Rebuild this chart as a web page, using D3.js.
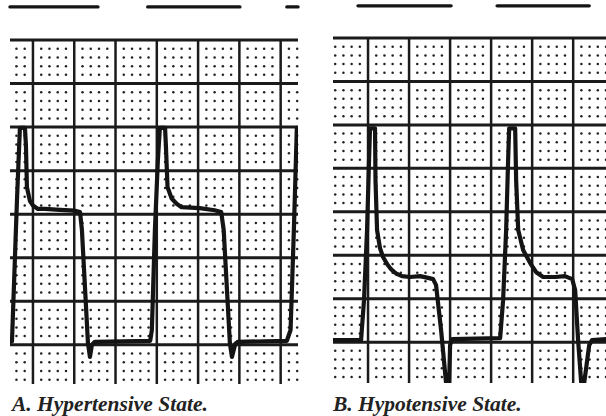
<!DOCTYPE html>
<html>
<head>
<meta charset="utf-8">
<script src="https://cdn.jsdelivr.net/npm/d3@7"></script>
<style>
  html, body { margin: 0; padding: 0; background: #fff; }
  svg { display: block; }
</style>
</head>
<body>
<svg id="chart" width="606" height="416"></svg>
<script>
// Recording strip coordinates are in millimetres of chart paper:
// x = paper travel (mm), y = pen deflection above baseline (mm).

// A. Hypertensive state: tall spike, quick decay onto a high plateau, brief undershoot.
const traceA_x = [-2.78, -2.54, -1.94, -1.58, -0.97, -0.85, -0.73, -0.36, 0.0, 0.6, 1.45, 3.27, 5.08, 5.7,
  5.93, 6.66, 6.9, 7.14, 7.5, 14.2, 14.4, 14.77, 15.13, 15.37, 16.0, 16.1, 16.3, 16.8, 17.4, 18.0,
  20.2, 22.0, 22.8, 23.1, 23.85, 24.1, 24.5, 24.8, 30.75, 31.2, 31.6, 31.96];
const traceA_y = [0.34, 0.4, 16.5, 24.9, 24.9, 22.9, 18.1, 16.5, 16.0, 15.6, 15.6, 15.5, 15.4, 15.25,
  13.2, 0.2, -1.4, 0.0, 0.34, 0.46, 1.7, 13.2, 21.2, 24.9, 24.9, 22.9, 18.1, 16.8, 16.2, 15.8,
  15.7, 15.45, 15.25, 13.2, 0.2, -1.4, 0.1, 0.34, 0.46, 1.7, 13.2, 24.9];

// B. Hypotensive state: sharp narrow spike, long decay onto a low plateau, deep undershoot.
const traceB_x = [-4.27, -0.85, -0.49, -0.12, 0.12, 0.24, 0.85, 0.91, 1.10, 1.46, 1.83, 2.32, 2.80,
  3.41, 4.15, 5.12, 6.34, 7.32, 7.93, 8.29, 8.9, 9.51, 9.7, 9.88, 10.0, 10.24,
  16.1, 16.46, 16.83, 17.07, 17.2, 17.93, 18.05, 18.3, 18.9, 19.76, 20.49, 21.34,
  22.8, 24.0, 24.88, 25.24, 25.6, 25.98, 26.16, 26.34, 26.95, 27.3, 29.0];
const traceB_y = [0.23, 0.23, 4.83, 12.9, 20.9, 24.6, 24.6, 18.6, 12.9, 10.8, 9.8, 9.0, 8.4,
  7.9, 7.6, 7.5, 7.6, 7.4, 7.25, 6.56, 1.4, -4.7, -6.0, -4.7, -0.35, 0.35,
  0.46, 4.83, 12.9, 20.9, 24.6, 24.6, 18.6, 12.9, 10.6, 9.1, 8.05, 7.5,
  7.5, 7.6, 7.25, 6.0, 0.23, -4.7, -6.0, -4.7, -0.35, 0.23, 0.35];

// Pen strokes left on the strip above each recording (start mm, end mm).
const upperA = [[-2.78, 7.87], [13.9, 25.06], [30.75, 32.1]];
const upperB = [[-1.22, 10.12], [15.73, 26.95]];
const upperLevel = [38.8, 38.7];

const labels = ["A. Hypertensive State.", "B. Hypotensive State."];

// Paper geometry: major division every 5 mm, dot at every 1 mm.
const MAJOR = 5;
const PAPER_TOP = 35;

const panels = [
  { xs: traceA_x, ys: traceA_y, upper: upperA, upperY: upperLevel[0], label: labels[0],
    xDom: [-2.78, 32.1], xRange: [10, 298], yDom: [-4.5, PAPER_TOP], yRange: [384, 40], labelX: 12 },
  { xs: traceB_x, ys: traceB_y, upper: upperB, upperY: upperLevel[1], label: labels[1],
    xDom: [-4.27, 29.0], xRange: [333, 606], yDom: [-4.7, PAPER_TOP], yRange: [383, 38], labelX: 333 }
];

const svg = d3.select("#chart");
const ink = "#1b1b1b";

panels.forEach((p, i) => {
  const x = d3.scaleLinear().domain(p.xDom).range(p.xRange);
  const y = d3.scaleLinear().domain(p.yDom).range(p.yRange);
  const g = svg.append("g");

  // dotted 1 mm lattice
  const xi = d3.range(Math.ceil(p.xDom[0]), Math.floor(p.xDom[1]) + 1).filter(v => v % MAJOR !== 0 && v > p.xDom[0]);
  const yi = d3.range(Math.ceil(p.yDom[0]), PAPER_TOP).filter(v => v % MAJOR !== 0);
  const dots = [];
  xi.forEach(a => yi.forEach(b => dots.push([a, b])));
  g.append("g").selectAll("circle").data(dots).join("circle")
    .attr("cx", d => x(d[0])).attr("cy", d => y(d[1])).attr("r", 1.25)
    .attr("fill", "#222");

  // major divisions
  const vx = d3.range(Math.ceil(p.xDom[0] / MAJOR) * MAJOR, p.xDom[1], MAJOR);
  const hy = d3.range(Math.ceil(p.yDom[0] / MAJOR) * MAJOR, PAPER_TOP + 0.01, MAJOR);
  g.append("g").selectAll("line").data(vx).join("line")
    .attr("x1", d => x(d)).attr("x2", d => x(d))
    .attr("y1", y(PAPER_TOP)).attr("y2", y(p.yDom[0]))
    .attr("stroke", ink).attr("stroke-width", 2.5);
  g.append("g").selectAll("line").data(hy).join("line")
    .attr("x1", x(p.xDom[0])).attr("x2", x(p.xDom[1]))
    .attr("y1", d => y(d)).attr("y2", d => y(d))
    .attr("stroke", ink).attr("stroke-width", 3);

  // clip recording to the paper
  const clipId = "paper" + i;
  svg.append("clipPath").attr("id", clipId).append("rect")
    .attr("x", x(p.xDom[0])).attr("y", y(PAPER_TOP))
    .attr("width", x(p.xDom[1]) - x(p.xDom[0])).attr("height", y(p.yDom[0]) - y(PAPER_TOP));

  const pts = p.xs.map((v, k) => [v, p.ys[k]]);
  const line = d3.line().x(d => x(d[0])).y(d => y(d[1])).curve(d3.curveLinear);
  g.append("path").datum(pts)
    .attr("clip-path", `url(#${clipId})`)
    .attr("d", line)
    .attr("fill", "none").attr("stroke", "#141414")
    .attr("stroke-width", 4.2).attr("stroke-linejoin", "round").attr("stroke-linecap", "round");

  // upper strokes
  g.append("g").selectAll("line").data(p.upper).join("line")
    .attr("x1", d => x(d[0])).attr("x2", d => x(d[1]))
    .attr("y1", y(p.upperY)).attr("y2", y(p.upperY))
    .attr("stroke", "#141414").attr("stroke-width", 3.4).attr("stroke-linecap", "round");

  svg.append("text")
    .attr("x", p.labelX).attr("y", 411)
    .attr("font-family", "'Liberation Serif', 'Times New Roman', serif")
    .attr("font-style", "italic").attr("font-weight", "bold")
    .attr("font-size", 21.5).attr("fill", "#222")
    .text(p.label);
});
</script>
</body>
</html>
